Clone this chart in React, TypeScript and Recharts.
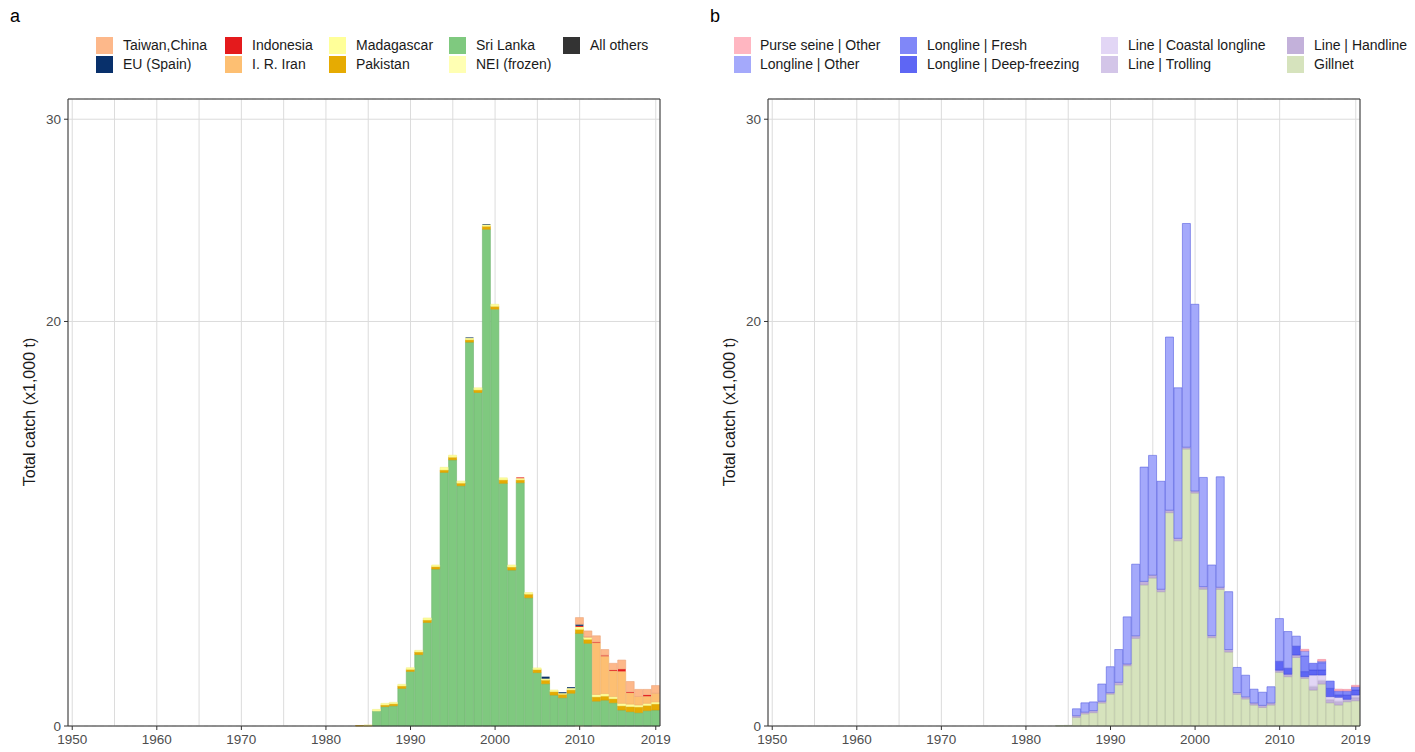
import React from 'react';
import { BarChart, Bar, XAxis, YAxis, CartesianGrid, ReferenceLine } from 'recharts';

// years shown on the x axis
const years = Array.from({ length: 70 }, (_, i) => 1950 + i);
const xTicks = [1950, 1960, 1970, 1980, 1990, 2000, 2010, 2019];
const xGrid = [1950, 1955, 1960, 1965, 1970, 1975, 1980, 1985, 1990, 1995, 2000, 2005, 2010, 2014.5, 2019];
const yTicks = [0, 20, 30];
const yMinor = [10, 25];

// series values below start in 1984 (earlier years are zero)
const START_YEAR = 1984;

// ---- panel a: catch by fleet (x1,000 t), 1984..2019
const taiwanChina = [0, 0, 0, 0, 0, 0, 0, 0, 0, 0, 0, 0, 0, 0, 0, 0, 0, 0, 0, 0, 0, 0, 0, 0, 0, 0, 0.33, 0.28, 0.31, 0.28, 0.33, 0.44, 0.51, 0.35, 0.26, 0.38];
const euSpain = [0, 0, 0, 0, 0, 0, 0, 0, 0, 0, 0, 0, 0, 0.03, 0, 0.03, 0, 0, 0, 0, 0, 0, 0.1, 0, 0.05, 0.05, 0.08, 0, 0, 0, 0, 0, 0, 0, 0, 0];
const indonesia = [0, 0, 0, 0, 0, 0, 0, 0, 0, 0, 0, 0, 0, 0, 0, 0, 0, 0, 0, 0.04, 0, 0, 0, 0, 0, 0, 0.05, 0.03, 0.04, 0.05, 0.05, 0.12, 0.05, 0, 0.08, 0];
const irIran = [0, 0, 0, 0, 0, 0, 0, 0, 0, 0, 0, 0, 0, 0, 0, 0, 0, 0, 0, 0, 0, 0, 0, 0, 0, 0, 0, 0, 2.55, 1.85, 1.27, 1.58, 0.56, 0.42, 0.35, 0.43];
const madagascar = [0, 0.01, 0.08, 0.08, 0.07, 0.08, 0.08, 0.08, 0.1, 0.08, 0.13, 0.1, 0.1, 0.08, 0.1, 0.08, 0.1, 0.1, 0.1, 0.08, 0.08, 0.08, 0.07, 0.08, 0.05, 0.08, 0.12, 0.1, 0.12, 0.12, 0.1, 0.12, 0.12, 0.1, 0.1, 0.1];
const pakistan = [0.02, 0.03, 0, 0.08, 0.1, 0.12, 0.1, 0.13, 0.12, 0.12, 0.12, 0.13, 0.13, 0.12, 0.13, 0.15, 0.14, 0.17, 0.15, 0.14, 0.18, 0.15, 0.18, 0.17, 0.17, 0.17, 0.2, 0.2, 0.21, 0.2, 0.2, 0.21, 0.25, 0.28, 0.26, 0.3];
const sriLanka = [0, 0, 0.74, 0.96, 1.0, 1.86, 2.7, 3.53, 5.12, 7.76, 12.54, 13.16, 11.88, 18.98, 16.49, 24.56, 20.61, 12.0, 7.71, 12.03, 6.34, 2.64, 2.09, 1.53, 1.4, 1.62, 4.55, 4.09, 1.2, 1.28, 1.15, 0.79, 0.71, 0.66, 0.76, 0.79];
const neiFrozen = [0, 0, 0, 0, 0, 0, 0, 0, 0, 0, 0, 0, 0, 0, 0, 0, 0, 0, 0, 0, 0, 0, 0, 0, 0, 0, 0.03, 0, 0.03, 0, 0, 0, 0, 0, 0, 0];
const allOthers = [0, 0, 0, 0, 0, 0, 0, 0, 0, 0, 0, 0, 0, 0, 0, 0, 0, 0, 0, 0, 0, 0, 0, 0, 0, 0, 0, 0, 0, 0, 0, 0, 0, 0, 0, 0];

// ---- panel b: catch by gear (x1,000 t), 1984..2019
const purseSeineOther = [0, 0, 0, 0, 0, 0, 0, 0, 0, 0, 0, 0, 0, 0, 0, 0, 0, 0, 0, 0, 0, 0, 0, 0, 0, 0, 0, 0, 0, 0.08, 0, 0.08, 0, 0.08, 0.07, 0.07];
const longlineOther = [0, 0, 0.34, 0.46, 0.43, 0.85, 1.28, 1.62, 2.33, 3.54, 5.65, 5.92, 5.34, 8.56, 7.44, 11.06, 9.23, 5.4, 3.49, 5.46, 2.86, 1.24, 1.07, 0.68, 0.65, 0.8, 2.11, 1.81, 0.49, 0.25, 0, 0.08, 0, 0, 0, 0];
const longlineFresh = [0, 0, 0, 0, 0, 0, 0, 0, 0, 0, 0, 0, 0, 0, 0, 0, 0, 0, 0, 0, 0, 0, 0, 0, 0, 0, 0, 0, 0, 0.77, 0.33, 0.36, 0.36, 0.2, 0.21, 0.16];
const longlineDeep = [0, 0, 0, 0, 0, 0, 0, 0, 0, 0, 0, 0, 0, 0, 0, 0, 0, 0, 0, 0, 0, 0, 0, 0, 0, 0, 0.44, 0.3, 0.44, 0.25, 0.25, 0.25, 0.41, 0.12, 0.21, 0.25];
const lineCoastal = [0, 0, 0, 0, 0, 0, 0, 0, 0, 0, 0, 0, 0, 0, 0, 0, 0, 0, 0, 0, 0, 0, 0, 0, 0, 0, 0, 0, 0, 0, 0.55, 0.26, 0.13, 0.19, 0, 0.09];
const lineTrolling = [0, 0, 0, 0, 0, 0, 0, 0, 0, 0, 0, 0, 0, 0, 0, 0, 0, 0, 0, 0, 0, 0, 0, 0, 0, 0, 0, 0, 0, 0.03, 0.06, 0.06, 0.04, 0.06, 0.05, 0.05];
const lineHandline = [0, 0, 0.08, 0.085, 0.1, 0.085, 0.07, 0.12, 0.085, 0.12, 0.17, 0.14, 0.12, 0.12, 0.12, 0.085, 0.1, 0.12, 0.1, 0.1, 0.12, 0.085, 0.1, 0.1, 0.1, 0.1, 0.1, 0.12, 0.12, 0.05, 0.13, 0.12, 0.13, 0.13, 0.07, 0.14];
const gillnet = [0.02, 0.03, 0.43, 0.6, 0.66, 1.14, 1.58, 2.04, 2.98, 4.34, 6.98, 7.32, 6.64, 10.55, 9.16, 13.7, 11.52, 6.77, 4.37, 6.76, 3.66, 1.57, 1.34, 1.04, 0.92, 1.04, 2.66, 2.44, 3.39, 2.36, 1.78, 2.08, 1.15, 1.04, 1.2, 1.25];

interface Series {
  key: string;
  name: string;
  fill: string;
  stroke: string;
  values: number[];
}

// legend order (first = top of stack)
const fleetSeries: Series[] = [
  { key: 'twn', name: 'Taiwan,China', fill: '#FDB88A', stroke: '#eba57a', values: taiwanChina },
  { key: 'esp', name: 'EU (Spain)', fill: '#08306B', stroke: 'none', values: euSpain },
  { key: 'idn', name: 'Indonesia', fill: '#E41A1C', stroke: 'none', values: indonesia },
  { key: 'irn', name: 'I. R. Iran', fill: '#FDBF72', stroke: '#eeae66', values: irIran },
  { key: 'mdg', name: 'Madagascar', fill: '#FFFF99', stroke: '#f2f08a', values: madagascar },
  { key: 'pak', name: 'Pakistan', fill: '#E6AB02', stroke: '#d9a102', values: pakistan },
  { key: 'lka', name: 'Sri Lanka', fill: '#7FC97F', stroke: '#6fb46f', values: sriLanka },
  { key: 'nei', name: 'NEI (frozen)', fill: '#FFFFB3', stroke: '#f0f0a0', values: neiFrozen },
  { key: 'oth', name: 'All others', fill: '#333333', stroke: 'none', values: allOthers },
];

const gearSeries: Series[] = [
  { key: 'ps', name: 'Purse seine | Other', fill: '#FFB6C1', stroke: '#f08a9c', values: purseSeineOther },
  { key: 'llo', name: 'Longline | Other', fill: '#A4A9FB', stroke: '#5860e0', values: longlineOther },
  { key: 'llf', name: 'Longline | Fresh', fill: '#8087F8', stroke: '#4b53e6', values: longlineFresh },
  { key: 'lld', name: 'Longline | Deep-freezing', fill: '#5E66F4', stroke: '#3f47dc', values: longlineDeep },
  { key: 'lcl', name: 'Line | Coastal longline', fill: '#E2D6F5', stroke: '#c9bce0', values: lineCoastal },
  { key: 'ltr', name: 'Line | Trolling', fill: '#D3C5E8', stroke: '#bcaed4', values: lineTrolling },
  { key: 'lhl', name: 'Line | Handline', fill: '#C3B1DA', stroke: '#ab99c4', values: lineHandline },
  { key: 'gn', name: 'Gillnet', fill: '#D6E3BD', stroke: '#b3c09c', values: gillnet },
];

const buildData = (series: Series[]) =>
  years.map((year) => {
    const row: Record<string, number> = { year };
    series.forEach((s) => {
      const i = year - START_YEAR;
      row[s.key] = i >= 0 && i < s.values.length ? s.values[i] : 0;
    });
    return row;
  });

const FONT = '"Liberation Sans", Arial, sans-serif';

// tick labels drawn by hand so the font size is honoured
const XTick = (props: any) => (
  <text x={props.x} y={props.y} dy="0.71em" textAnchor="middle" fill="#4d4d4d" fontSize={13.5} fontFamily={FONT}>
    {props.payload.value}
  </text>
);
const YTickLeft = (props: any) => (
  <text x={props.x} y={props.y} dy="0.36em" textAnchor="end" fill="#4d4d4d" fontSize={13.5} fontFamily={FONT}>
    {props.payload.value}
  </text>
);
const YTickRight = (props: any) => (
  <text x={props.x} y={props.y} dy="0.36em" textAnchor="start" fill="#4d4d4d" fontSize={13.5} fontFamily={FONT}>
    {props.payload.value}
  </text>
);

function Panel({ series, left }: { series: Series[]; left: number }) {
  const data = buildData(series);
  const stackOrder = [...series].reverse();
  return (
    <div style={{ position: 'absolute', left, top: 0 }}>
      <BarChart
        width={700}
        height={752}
        data={data}
        margin={{ top: 99, right: 10, bottom: 0, left: 28 }}
        barCategoryGap={0}
        barGap={0}
      >
        <XAxis
          xAxisId="grid"
          orientation="top"
          dataKey="year"
          type="number"
          domain={[1949.5, 2019.5]}
          ticks={xGrid}
          height={0}
          hide
        />
        <XAxis
          xAxisId="main"
          dataKey="year"
          type="category"
          ticks={xTicks}
          interval={0}
          height={26}
          tickSize={4}
          tickMargin={4}
          tick={<XTick />}
          axisLine={{ stroke: '#333333' }}
          tickLine={{ stroke: '#333333' }}
        />
        <YAxis
          yAxisId="left"
          domain={[0, 31]}
          ticks={yTicks}
          width={40}
          tickSize={4}
          tickMargin={3}
          tick={<YTickLeft />}
          axisLine={{ stroke: '#333333' }}
          tickLine={{ stroke: '#333333' }}
        />
        <YAxis
          yAxisId="right"
          orientation="right"
          domain={[0, 31]}
          ticks={yTicks}
          width={30}
          tickSize={4}
          tickMargin={3}
          tick={<YTickRight />}
          axisLine={{ stroke: '#333333' }}
          tickLine={{ stroke: '#333333' }}
        />
        <YAxis yAxisId="minor" orientation="right" domain={[0, 31]} ticks={yMinor} width={0} hide />
        <CartesianGrid xAxisId="grid" yAxisId="left" horizontal={false} stroke="#dcdcdc" />
        <CartesianGrid xAxisId="main" yAxisId="left" vertical={false} stroke="#dcdcdc" />
        <CartesianGrid xAxisId="main" yAxisId="minor" vertical={false} stroke="#e2e2e2" strokeDasharray="4 4" />
        {stackOrder.map((s) => (
          <Bar
            key={s.key}
            xAxisId="main"
            yAxisId="left"
            dataKey={s.key}
            name={s.name}
            stackId="a"
            fill={s.fill}
            stroke={s.stroke}
            strokeWidth={0.6}
            isAnimationActive={false}
          />
        ))}
        <ReferenceLine xAxisId="main" yAxisId="left" y={31} stroke="#333333" />
      </BarChart>
    </div>
  );
}

function Legend({ series, cols }: { series: Series[]; cols: { swatch: number; text: number }[] }) {
  return (
    <>
      {series.map((s, i) => {
        const col = cols[Math.floor(i / 2)];
        const top = i % 2 === 0 ? 37 : 56;
        return (
          <React.Fragment key={s.key}>
            <div style={{ position: 'absolute', left: col.swatch, top, width: 17, height: 17, background: s.fill }} />
            <div
              style={{
                position: 'absolute',
                left: col.text,
                top: top - 1,
                lineHeight: '19px',
                fontSize: 14,
                color: '#1a1a1a',
                whiteSpace: 'nowrap',
              }}
            >
              {s.name}
            </div>
          </React.Fragment>
        );
      })}
    </>
  );
}

function YTitle({ left }: { left: number }) {
  return (
    <div
      style={{
        position: 'absolute',
        left: left - 100,
        top: 412 - 10,
        width: 200,
        height: 20,
        lineHeight: '20px',
        textAlign: 'center',
        fontSize: 16,
        color: '#1a1a1a',
        transform: 'rotate(-90deg)',
        whiteSpace: 'nowrap',
      }}
    >
      Total catch (x1,000 t)
    </div>
  );
}

export default function App() {
  return (
    <div
      style={{
        position: 'absolute',
        left: 0,
        top: 0,
        width: 1415,
        height: 752,
        background: '#ffffff',
        fontFamily: FONT,
        overflow: 'hidden',
      }}
    >
      <Panel series={fleetSeries} left={0} />
      <Panel series={gearSeries} left={700} />
      <div style={{ position: 'absolute', left: 10, top: 6, fontSize: 18, color: '#000' }}>a</div>
      <div style={{ position: 'absolute', left: 710, top: 6, fontSize: 18, color: '#000' }}>b</div>
      <Legend
        series={fleetSeries}
        cols={[
          { swatch: 96, text: 123 },
          { swatch: 225, text: 252 },
          { swatch: 329, text: 356 },
          { swatch: 449, text: 476 },
          { swatch: 563, text: 590 },
        ]}
      />
      <Legend
        series={gearSeries}
        cols={[
          { swatch: 734, text: 760 },
          { swatch: 900, text: 927 },
          { swatch: 1101, text: 1128 },
          { swatch: 1287, text: 1314 },
        ]}
      />
      <YTitle left={30} />
      <YTitle left={730} />
    </div>
  );
}
